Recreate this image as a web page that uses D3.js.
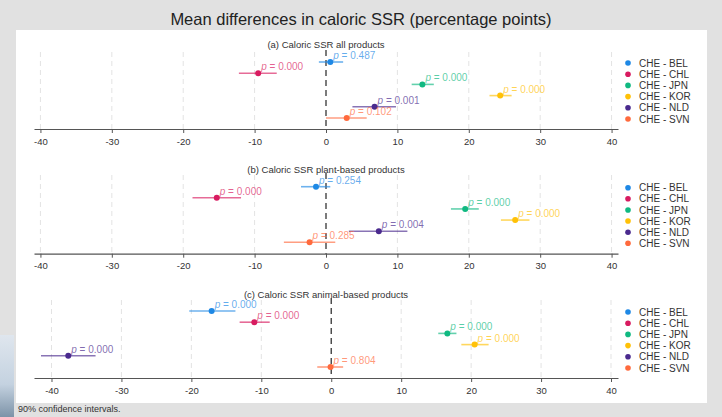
<!DOCTYPE html>
<html>
<head>
<meta charset="utf-8">
<script src="https://cdn.jsdelivr.net/npm/d3@7"></script>
<style>
  body { margin: 0; background: #e1e1e1; }
  svg { display: block; font-family: "Liberation Sans", Arial, sans-serif; }
</style>
</head>
<body>
<div id="chart-container"></div>
<script>
// Country pairs and colours
const pairs = ["CHE - BEL", "CHE - CHL", "CHE - JPN", "CHE - KOR", "CHE - NLD", "CHE - SVN"];
const pairColors = ["#1e88e5", "#d81b60", "#10b981", "#ffc107", "#4a2a8e", "#ff6a3d"];

const panelTitles = [
  "(a) Caloric SSR all products",
  "(b) Caloric SSR plant-based products",
  "(c) Caloric SSR animal-based products"
];

const xTicks = [-40, -30, -20, -10, 0, 10, 20, 30, 40];

// (a) all products
const allMean = [0.6, -9.5, 13.5, 24.4, 6.8, 2.9];
const allLow  = [-1.0, -12.2, 12.0, 22.9, 3.7, 0.0];
const allHigh = [2.4, -6.9, 15.1, 26.0, 9.8, 5.7];
const allP    = ["0.487", "0.000", "0.000", "0.000", "0.001", "0.102"];

// (b) plant-based products
const plantMean = [-1.4, -15.3, 19.5, 26.5, 7.4, -2.3];
const plantLow  = [-3.5, -18.7, 17.5, 24.5, 3.2, -5.9];
const plantHigh = [0.6, -11.9, 21.4, 28.5, 11.4, 1.3];
const plantP    = ["0.254", "0.000", "0.000", "0.000", "0.004", "0.285"];

// (c) animal-based products
const animalMean = [-17.1, -11.0, 16.6, 20.5, -37.6, -0.1];
const animalLow  = [-20.3, -13.1, 15.3, 18.6, -41.5, -2.0];
const animalHigh = [-13.7, -8.8, 17.9, 22.5, -33.7, 1.7];
const animalP    = ["0.000", "0.000", "0.000", "0.000", "0.000", "0.804"];

const panelData = [
  { mean: allMean, low: allLow, high: allHigh, p: allP },
  { mean: plantMean, low: plantLow, high: plantHigh, p: plantP },
  { mean: animalMean, low: animalLow, high: animalHigh, p: animalP }
];

/**************************************************
 * Layout
 **************************************************/
const width = 722, height = 417;
const layouts = [
  { title: 44,  top: 52,  rows: [62, 118],    axis: 129,   domain: [-40.9, 40.9] },
  { title: 169, top: 175, rows: [186.7, 242.3], axis: 253.7, domain: [-40.9, 40.9] },
  { title: 294, top: 300, rows: [311, 367],   axis: 378,   domain: [-42.5, 41] }
];

const svg = d3.select("#chart-container")
  .append("svg")
  .attr("width", width)
  .attr("height", height);

svg.append("rect").attr("width", width).attr("height", height).attr("fill", "#e1e1e1");

// bluish strip at the left edge
const grad = svg.append("defs").append("linearGradient")
  .attr("id", "strip").attr("x1", 0).attr("y1", 0).attr("x2", 0).attr("y2", 1);
grad.append("stop").attr("offset", "0%").attr("stop-color", "#dfe6ee");
grad.append("stop").attr("offset", "60%").attr("stop-color", "#c4d2e0");
grad.append("stop").attr("offset", "100%").attr("stop-color", "#7d93a8");
svg.append("rect").attr("x", 0).attr("y", 335).attr("width", 14).attr("height", 82).attr("fill", "url(#strip)");

// white plot region
svg.append("rect")
  .attr("x", 16).attr("y", 30)
  .attr("width", 691).attr("height", 373)
  .attr("fill", "#ffffff");

svg.append("text")
  .attr("x", 361).attr("y", 25)
  .attr("text-anchor", "middle")
  .attr("font-size", "16.5px")
  .attr("fill", "#222")
  .text("Mean differences in caloric SSR (percentage points)");

svg.append("text")
  .attr("x", 18).attr("y", 412)
  .attr("font-size", "9px")
  .attr("fill", "#333")
  .text("90% confidence intervals.");

/**************************************************
 * Panels
 **************************************************/
panelData.forEach((pd, i) => {
  const L = layouts[i];
  const g = svg.append("g");

  const x = d3.scaleLinear().domain(L.domain).range([34, 618]);
  const y = d3.scalePoint().domain(pairs).range(L.rows);

  // gridlines
  g.selectAll("line.grid")
    .data(xTicks.filter(t => t !== 0))
    .enter().append("line")
    .attr("class", "grid")
    .attr("x1", d => x(d)).attr("x2", d => x(d))
    .attr("y1", L.top).attr("y2", L.axis)
    .attr("stroke", "#e3e3e3")
    .attr("stroke-width", 1)
    .attr("stroke-dasharray", "5,4");

  // zero reference line
  g.append("line")
    .attr("x1", x(0)).attr("x2", x(0))
    .attr("y1", L.top - 2).attr("y2", L.axis)
    .attr("stroke", "#444")
    .attr("stroke-width", 1.4)
    .attr("stroke-dasharray", "6,4");

  // axis (hyphen minus like the original)
  const axis = g.append("g")
    .attr("transform", `translate(0,${L.axis})`)
    .call(d3.axisBottom(x).tickValues(xTicks).tickSize(4).tickSizeOuter(0).tickFormat(d => String(d)));
  axis.select(".domain").attr("stroke", "#555").attr("stroke-width", 1.2);
  axis.selectAll(".tick line").attr("stroke", "#555");
  axis.selectAll(".tick text")
    .attr("font-size", "9.5px")
    .attr("fill", "#333")
    .attr("font-family", "Liberation Sans, Arial, sans-serif")
    .attr("dy", "0.9em");

  g.append("text")
    .attr("x", 326).attr("y", L.title + 3.5)
    .attr("text-anchor", "middle")
    .attr("font-size", "9.5px")
    .attr("fill", "#333")
    .text(panelTitles[i]);

  // confidence intervals
  g.selectAll("line.ci")
    .data(pairs)
    .enter().append("line")
    .attr("class", "ci")
    .attr("x1", (d, k) => x(pd.low[k]))
    .attr("x2", (d, k) => x(pd.high[k]))
    .attr("y1", d => y(d)).attr("y2", d => y(d))
    .attr("stroke", (d, k) => pairColors[k])
    .attr("stroke-opacity", 0.65)
    .attr("stroke-width", 1.6);

  // point estimates
  g.selectAll("circle.pt")
    .data(pairs)
    .enter().append("circle")
    .attr("class", "pt")
    .attr("cx", (d, k) => x(pd.mean[k]))
    .attr("cy", d => y(d))
    .attr("r", 3)
    .attr("fill", (d, k) => pairColors[k]);

  // p-value labels
  const lab = g.selectAll("text.p")
    .data(pairs)
    .enter().append("text")
    .attr("class", "p")
    .attr("x", (d, k) => x(pd.mean[k]) + 3)
    .attr("y", d => y(d) - 3)
    .attr("font-size", "10px")
    .attr("fill", (d, k) => pairColors[k])
    .attr("fill-opacity", 0.7);
  lab.append("tspan").attr("font-style", "italic").text("p");
  lab.append("tspan").text((d, k) => " = " + pd.p[k]);

  // legend
  const leg = g.selectAll("g.leg")
    .data(pairs)
    .enter().append("g")
    .attr("class", "leg")
    .attr("transform", d => `translate(628,${y(d) + 1})`);
  leg.append("circle").attr("r", 2.8).attr("fill", (d, k) => pairColors[k]);
  leg.append("text")
    .attr("x", 11).attr("y", 3.6)
    .attr("font-size", "10px")
    .attr("fill", "#333")
    .text(d => d);
});
</script>
</body>
</html>
